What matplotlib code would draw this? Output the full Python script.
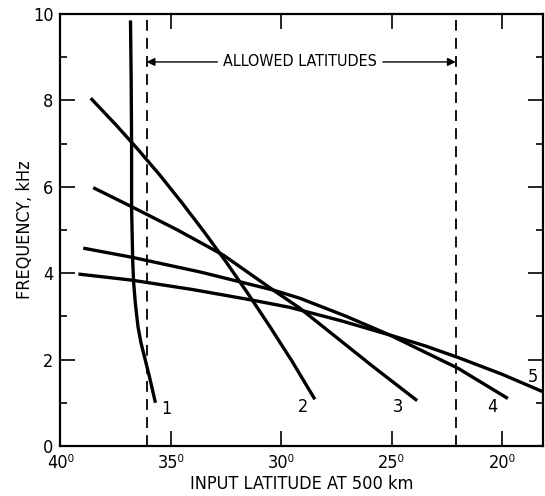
import matplotlib
matplotlib.use('Agg')
from matplotlib import pyplot as plt
from matplotlib.ticker import MultipleLocator

plt.rcParams['font.family'] = ['DejaVu Sans']
plt.rcParams['font.stretch'] = 'condensed'

# curves: input latitude (deg) vs frequency (kHz)
lat_1 = [36.83, 36.80, 36.78, 36.78, 36.73, 36.69, 36.61, 36.49, 36.36, 36.20, 35.97, 35.70]
freq_1 = [9.85, 8.5, 7.0, 5.5, 4.3, 3.8, 3.3, 2.76, 2.4, 2.07, 1.6, 1.0]

lat_2 = [38.63, 37.5, 36.5, 35.5, 34.5, 33.5, 32.5, 31.5, 30.5, 29.5, 28.48]
freq_2 = [8.05, 7.44, 6.87, 6.27, 5.63, 4.96, 4.26, 3.52, 2.75, 1.95, 1.08]

lat_3 = [38.52, 36.78, 34.7, 32.63, 30.37, 29.16, 25.85, 23.85]
freq_3 = [5.98, 5.54, 5.0, 4.42, 3.61, 3.19, 1.84, 1.05]

lat_4 = [38.97, 36.78, 33.69, 30.37, 29.16, 27.1, 25.09, 22.0, 19.74]
freq_4 = [4.58, 4.37, 4.03, 3.61, 3.42, 3.01, 2.57, 1.80, 1.10]

lat_5 = [39.19, 36.78, 34.0, 31.35, 29.62, 27.3, 25.09, 23.5, 22.0, 20.0, 18.08]
freq_5 = [3.98, 3.84, 3.62, 3.38, 3.21, 2.90, 2.57, 2.32, 2.05, 1.66, 1.24]

curves = [(lat_1, freq_1), (lat_2, freq_2), (lat_3, freq_3), (lat_4, freq_4), (lat_5, freq_5)]
curve_labels = ['1', '2', '3', '4', '5']
label_pos = [(35.2, 0.85), (29.03, 0.9), (24.73, 0.9), (20.43, 0.9), (18.62, 1.6)]

allowed = (36.1, 22.1)
x_ticks = [40, 35, 30, 25, 20]
y_ticks = [0, 2, 4, 6, 8, 10]

fig = plt.figure(figsize=(5.45, 4.96), dpi=100)
ax = fig.add_axes([0.111, 0.1008, 0.8853, 0.871])

for (lat, freq), name, pos in zip(curves, curve_labels, label_pos):
    ax.plot(lat, freq, color='black', lw=2.4, solid_capstyle='butt', solid_joinstyle='round')
    ax.text(pos[0], pos[1], name, fontsize=13, ha='center', va='center')

# allowed latitude band
for xv in allowed:
    ax.axvline(xv, color='black', lw=1.3, ls=(0, (6, 4)))

arrow = dict(arrowstyle='-|>', color='black', lw=1.0, mutation_scale=12, shrinkA=0, shrinkB=0)
ax.annotate('', xy=(allowed[0], 8.89), xytext=(32.9, 8.89), arrowprops=arrow)
ax.annotate('', xy=(allowed[1], 8.89), xytext=(25.4, 8.89), arrowprops=arrow)
ax.text(29.16, 8.89, 'ALLOWED LATITUDES', fontsize=11.5, ha='center', va='center')

ax.set_xlim(40, 18.15)
ax.set_ylim(0, 10)
ax.set_xticks(x_ticks)
ax.set_xticklabels([f'{t}⁰' for t in x_ticks], fontsize=13)
ax.set_yticks(y_ticks)
ax.set_yticklabels([str(t) for t in y_ticks], fontsize=13)
ax.yaxis.set_minor_locator(MultipleLocator(1))
ax.tick_params(which='major', direction='in', length=11, width=1.2, top=True, right=True, pad=5)
ax.tick_params(axis='x', which='major', pad=6)
ax.tick_params(which='minor', direction='in', length=5, width=1.2, right=True)
ax.tick_params(axis='x', which='minor', bottom=False, top=False)

for s in ax.spines.values():
    s.set_linewidth(1.6)

ax.set_xlabel('INPUT LATITUDE AT 500 km', fontsize=13, labelpad=2)
ax.set_ylabel('FREQUENCY, kHz', fontsize=13, labelpad=-1)

fig.savefig('out.png', dpi=100)
